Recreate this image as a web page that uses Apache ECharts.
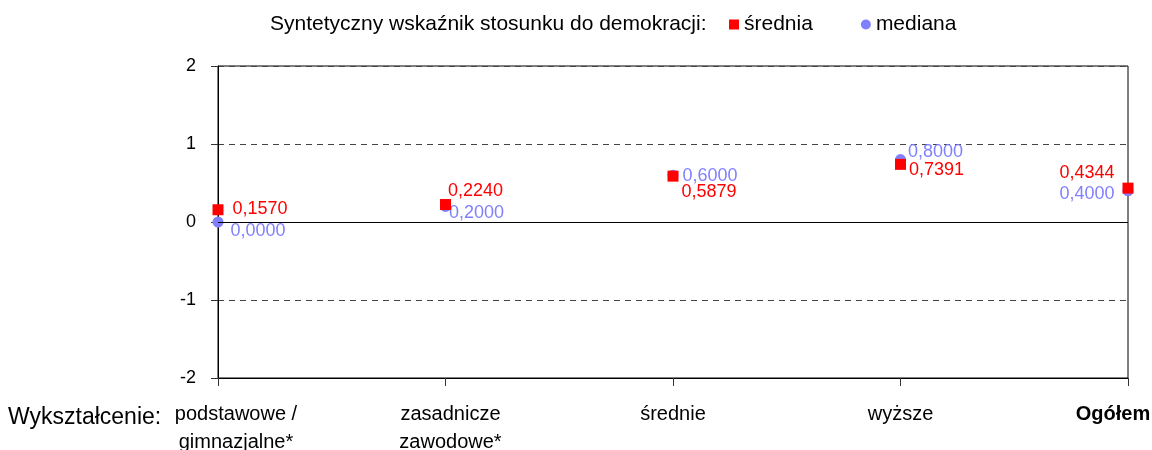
<!DOCTYPE html>
<html>
<head>
<meta charset="utf-8">
<script src="https://cdn.jsdelivr.net/npm/echarts@6/dist/echarts.min.js"></script>
<style>
  html, body { margin: 0; padding: 0; background: #fff; }
  #chart { width: 1152px; height: 450px; }
</style>
</head>
<body>
<div id="chart"></div>
<script>
// ---- data ----
const categories = ['podstawowe /\ngimnazjalne*', 'zasadnicze\nzawodowe*', 'średnie', 'wyższe', 'Ogółem'];
const meanValues = [0.1570, 0.2240, 0.5879, 0.7391, 0.4344];
const medianValues = [0.0000, 0.2000, 0.6000, 0.8000, 0.4000];
const seriesNames = ['średnia', 'mediana'];
const legendTitle = 'Syntetyczny wskaźnik stosunku do demokracji:';
const axisTitle = 'Wykształcenie:';
const yMin = -2, yMax = 2, yStep = 1;

// ---- styling ----
const FONT = '"Liberation Sans", Arial, sans-serif';
const RED = '#FF0000';
const BLUE = '#8080FF';
const meanLabelOffsets = [[4, -1], [-8, -13], [-2, 16], [-2, 6], [-3, -15]];
const medianLabelOffsets = [[2, 9], [-7, 7], [-1, 1], [-3, -8], [-3, 3]];
const fmt = v => v.toFixed(4).replace('.', ',');

function buildData(values, offsets, color) {
  return values.map((v, i) => ({
    value: v,
    label: {
      show: true,
      position: i === values.length - 1 ? 'left' : 'right',
      offset: offsets[i],
      color: color,
      fontSize: 18,
      fontFamily: FONT,
      formatter: p => fmt(p.value)
    }
  }));
}

const catRich = {
  a: { fontSize: 20, fontFamily: FONT, color: '#000', lineHeight: 28, padding: [0, 0, 0, 36] },
  b: { fontSize: 20, fontFamily: FONT, color: '#000', lineHeight: 28, padding: [0, 0, 0, 10] },
  c: { fontSize: 20, fontFamily: FONT, color: '#000', lineHeight: 28 },
  d: { fontSize: 20, fontFamily: FONT, color: '#000', lineHeight: 28, fontWeight: 'bold', padding: [0, 30, 0, 0] }
};
const catStyleKeys = ['a', 'b', 'c', 'c', 'd'];

const chart = echarts.init(document.getElementById('chart'), null, { renderer: 'canvas' });
chart.setOption({
  animation: false,
  backgroundColor: '#fff',
  grid: {
    left: 218, right: 24, top: 66, bottom: 72,
    containLabel: false, outerBoundsMode: 'none',
    show: true, borderColor: '#000', borderWidth: 1, backgroundColor: 'transparent'
  },
  legend: {
    data: [
      { name: seriesNames[0], icon: 'rect' },
      { name: seriesNames[1], icon: 'circle' }
    ],
    left: 729, top: 14, padding: 0,
    itemWidth: 10, itemHeight: 10, itemGap: 48,
    textStyle: { fontSize: 21, fontFamily: FONT, color: '#000' }
  },
  graphic: [
    { type: 'text', left: 270, top: 14, style: { text: legendTitle, fontSize: 21, fontFamily: FONT, fill: '#000' } },
    { type: 'text', left: 8, top: 406, style: { text: axisTitle, fontSize: 23, fontFamily: FONT, fill: '#000' } }
  ],
  xAxis: {
    type: 'category',
    data: categories,
    boundaryGap: false,
    axisLine: { show: true, onZero: false, lineStyle: { color: '#000' } },
    axisTick: { show: true, length: 8, interval: 0, lineStyle: { color: '#333' } },
    splitLine: { show: false },
    axisLabel: {
      interval: 0, margin: 22, color: '#000', fontSize: 20, fontFamily: FONT, lineHeight: 28,
      showMinLabel: true, showMaxLabel: true,
      formatter: (val, idx) => val.split('\n').map(s => '{' + catStyleKeys[idx] + '|' + s + '}').join('\n'),
      rich: catRich
    }
  },
  yAxis: {
    type: 'value',
    min: yMin, max: yMax, interval: yStep,
    axisLine: { show: true, lineStyle: { color: '#000' } },
    axisTick: { show: true, length: 7, lineStyle: { color: '#333' } },
    axisLabel: { margin: 22, color: '#000', fontSize: 18, fontFamily: FONT },
    splitLine: { show: true, lineStyle: { color: '#444', type: [6, 5], width: 1 } }
  },
  series: [
    {
      name: seriesNames[1], type: 'scatter', symbol: 'circle', symbolSize: 11,
      itemStyle: { color: BLUE, opacity: 1 },
      data: buildData(medianValues, medianLabelOffsets, BLUE),
      markLine: {
        silent: true, symbol: 'none', label: { show: false },
        lineStyle: { color: '#000', type: 'solid', width: 1 },
        data: [{ yAxis: 0 }]
      },
      z: 3
    },
    {
      name: seriesNames[0], type: 'scatter', symbol: 'rect', symbolSize: 11,
      itemStyle: { color: RED, opacity: 1 },
      data: buildData(meanValues, meanLabelOffsets, RED),
      z: 4
    }
  ]
});
</script>
</body>
</html>
